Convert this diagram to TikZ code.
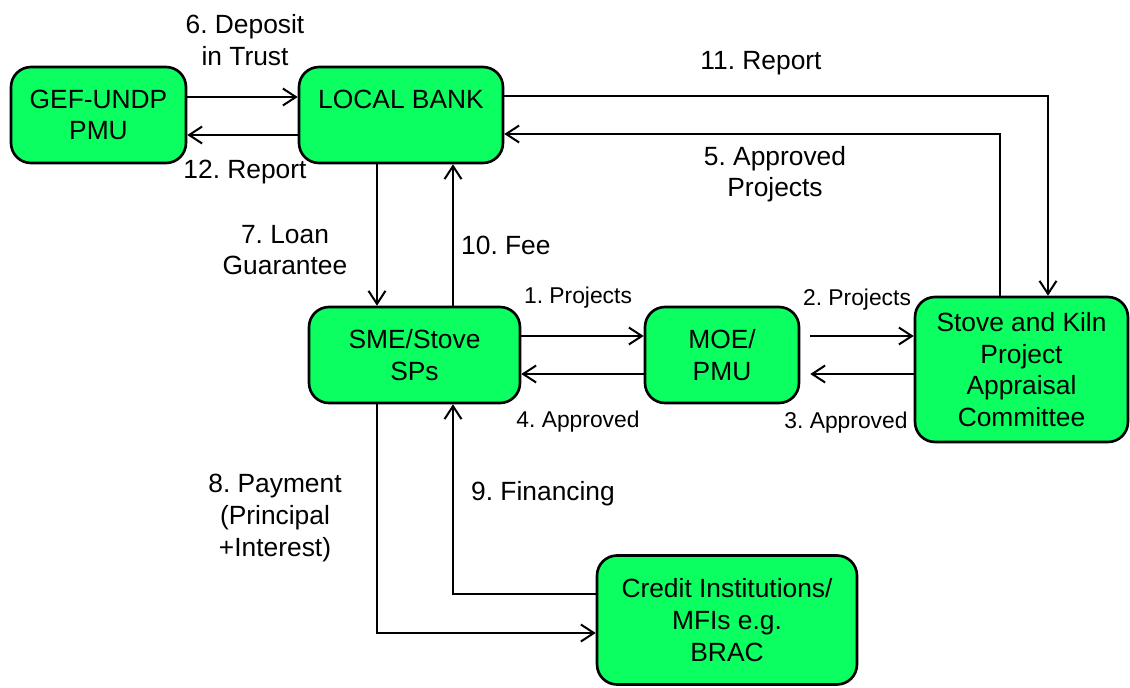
\documentclass[tikz,border=0pt]{standalone}
\usepackage{fontspec}
\setmainfont{Liberation Sans}
\usetikzlibrary{arrows.meta}
\definecolor{boxgreen}{RGB}{12,255,96}
\frenchspacing

\tikzset{
  actor/.style={draw, line width=1.5pt, fill=boxgreen, rounded corners=0.4cm,
    align=center, font=\fontsize{15}{18}\selectfont},
  flow/.style={-{Straight Barb[length=2.6mm,width=3.4mm]}, line width=1.15pt},
  lbl/.style={align=center, font=\fontsize{15}{18}\selectfont},
  smalllbl/.style={font=\fontsize{13}{16}\selectfont}
}

\begin{document}
\begin{tikzpicture}[x=0.02cm, y=-0.02cm]
        \useasboundingbox (0,0) rectangle (1130,687);
        % boxes
        \node[actor, minimum width=3.5cm, minimum height=1.92cm] (gef) at (98.5,115) {GEF-UNDP\\PMU};
        \node[actor, minimum width=4.08cm, minimum height=1.92cm] (bank) at (401,115) {LOCAL BANK\\~};
        \node[actor, minimum width=4.22cm, minimum height=1.92cm] (sme) at (414.5,355) {SME/Stove\\SPs};
        \node[actor, minimum width=3.08cm, minimum height=1.92cm] (moe) at (722,355) {MOE/\\PMU};
        \node[actor, minimum width=4.26cm, minimum height=2.9cm] (stove) at (1021.5,369.5)
              {Stove and Kiln\\Project\\Appraisal\\Committee};
        \node[actor, minimum width=5.2cm, minimum height=2.58cm] (credit) at (727,620)
              {Credit Institutions/\\MFIs e.g.\\BRAC};
        % connectors
        \draw[flow] (gef.east |- 0,97) -- (bank.west |- 0,97);
        \draw[flow] (bank.west |- 0,135) -- (gef.east |- 0,135);
        \draw[flow] (bank.east |- 0,96) -| (stove.north -| 1048,0);
        \draw[flow] (stove.north -| 1000,0) |- (bank.east |- 0,134);
        \draw[flow] (bank.south -| 377,0) -- (sme.north -| 377,0);
        \draw[flow] (sme.north -| 453,0) -- (bank.south -| 453,0);
        \draw[flow] (sme.east |- 0,336) -- (moe.west |- 0,336);
        \draw[flow] (moe.west |- 0,374) -- (sme.east |- 0,374);
        \draw[flow, shorten <=0.2cm] (moe.east |- 0,336) -- (stove.west |- 0,336);
        \draw[flow, shorten >=0.2cm] (stove.west |- 0,374) -- (moe.east |- 0,374);
        \draw[flow] (sme.south -| 377,0) |- (credit.west |- 0,633);
        \draw[flow] (credit.west |- 0,594) -| (sme.south -| 453,0);
        % labels
        \node[lbl] (tdeposit) at (245,40) {6. Deposit\\in Trust};
        \node[lbl] (treportgef) at (245,172) {12. Report};
        \node[lbl] (treportapc) at (761,63) {11. Report};
        \node[lbl] (tapproved) at (775,174) {5. Approved\\Projects};
        \node[lbl] (tloan) at (285,250) {7. Loan\\Guarantee};
        \node[lbl, anchor=west] (tfee) at (455,245) {10. Fee};
        \node[smalllbl] (tprojone) at (578,298) {1. Projects};
        \node[smalllbl] (tprojtwo) at (857,300) {2. Projects};
        \node[smalllbl] (tappfour) at (578,422) {4. Approved};
        \node[smalllbl] (tappthree) at (846,423) {3. Approved};
        \node[lbl] (tpayment) at (275,518) {8. Payment\\(Principal\\+Interest)};
        \node[lbl, anchor=west] (tfinancing) at (465,494) {9. Financing};
      \end{tikzpicture}
\end{document}
